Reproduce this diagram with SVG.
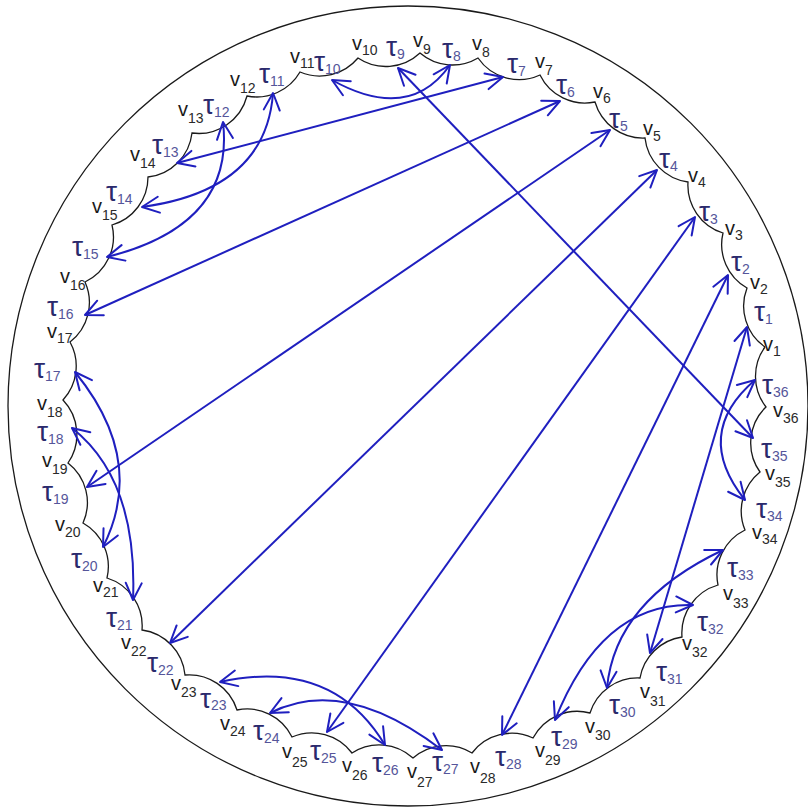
<svg xmlns="http://www.w3.org/2000/svg" width="808" height="807" viewBox="0 0 808 807">
<style>
.bd{fill:none;stroke:#1a1a1a;stroke-width:1.3}
.cn path{fill:none;stroke:#1f1fbf;stroke-width:2;marker-start:url(#ah);marker-end:url(#ah)}
.t{font-family:"Liberation Sans",Arial,sans-serif;font-size:28px;fill:#2a2a6c}
.ts{font-size:14px;fill:#55559a}
.v{font-family:"Liberation Sans",Arial,sans-serif;font-size:20px;fill:#1a1a1a}
.vs{font-size:14px;fill:#2a2a2a}
</style>
<defs>
<marker id="ah" markerUnits="userSpaceOnUse" markerWidth="22" markerHeight="22" viewBox="-20 -11 22 22" refX="0" refY="0" orient="auto-start-reverse" overflow="visible">
<path d="M-17,-8 L0,0 L-17,8" fill="none" stroke="#1f1fbf" stroke-width="2" stroke-linecap="round" stroke-linejoin="round"/>
</marker>
</defs>
<rect width="808" height="807" fill="#ffffff"/>
<circle class="bd" cx="408" cy="406" r="400"/>
<g id="boundary">
<path class="bd" d="M765,347 A50,50 0 0 1 747,288 A50,50 0 0 1 723,233 A50,50 0 0 1 688,182 A50,50 0 0 1 645,138 A50,50 0 0 1 595,102 A50,50 0 0 1 540,75 A50,50 0 0 1 478,58 A50,50 0 0 1 420,53 A50,50 0 0 1 358,58 A50,50 0 0 1 300,72 A50,50 0 0 1 247,96 A50,50 0 0 1 192,133 A50,50 0 0 1 148,177 A50,50 0 0 1 112,225 A50,50 0 0 1 85,282 A50,50 0 0 1 70,342 A50,50 0 0 1 63,400 A50,50 0 0 1 68,463 A50,50 0 0 1 83,523 A50,50 0 0 1 107,578 A50,50 0 0 1 142,630 A50,50 0 0 1 185,675 A50,50 0 0 1 237,710 A50,50 0 0 1 292,737 A50,50 0 0 1 352,753 A50,50 0 0 1 413,758 A50,50 0 0 1 472,753 A50,50 0 0 1 533,738 A50,50 0 0 1 590,713 A50,50 0 0 1 640,678 A50,50 0 0 1 682,637 A50,50 0 0 1 718,585 A50,50 0 0 1 745,530 A50,50 0 0 1 760,472 A50,50 0 0 1 766,407 A50,50 0 0 1 765,347"/>
</g>
<g id="edges">
<text id="tau1" class="t" x="754" y="321">τ<tspan class="ts" dy="3">1</tspan></text>
<text id="tau2" class="t" x="731" y="271">τ<tspan class="ts" dy="3">2</tspan></text>
<text id="tau3" class="t" x="699" y="221">τ<tspan class="ts" dy="3">3</tspan></text>
<text id="tau4" class="t" x="659" y="168">τ<tspan class="ts" dy="3">4</tspan></text>
<text id="tau5" class="t" x="609" y="128">τ<tspan class="ts" dy="3">5</tspan></text>
<text id="tau6" class="t" x="556" y="94">τ<tspan class="ts" dy="3">6</tspan></text>
<text id="tau7" class="t" x="507" y="73">τ<tspan class="ts" dy="3">7</tspan></text>
<text id="tau8" class="t" x="442" y="58">τ<tspan class="ts" dy="3">8</tspan></text>
<text id="tau9" class="t" x="386" y="56">τ<tspan class="ts" dy="3">9</tspan></text>
<text id="tau10" class="t" x="314" y="71">τ<tspan class="ts" dy="3">10</tspan></text>
<text id="tau11" class="t" x="259" y="83">τ<tspan class="ts" dy="3">11</tspan></text>
<text id="tau12" class="t" x="203" y="114">τ<tspan class="ts" dy="3">12</tspan></text>
<text id="tau13" class="t" x="152" y="154">τ<tspan class="ts" dy="3">13</tspan></text>
<text id="tau14" class="t" x="106" y="201">τ<tspan class="ts" dy="3">14</tspan></text>
<text id="tau15" class="t" x="72" y="256">τ<tspan class="ts" dy="3">15</tspan></text>
<text id="tau16" class="t" x="47" y="316">τ<tspan class="ts" dy="3">16</tspan></text>
<text id="tau17" class="t" x="34" y="378">τ<tspan class="ts" dy="3">17</tspan></text>
<text id="tau18" class="t" x="37" y="441">τ<tspan class="ts" dy="3">18</tspan></text>
<text id="tau19" class="t" x="42" y="501">τ<tspan class="ts" dy="3">19</tspan></text>
<text id="tau20" class="t" x="71" y="568">τ<tspan class="ts" dy="3">20</tspan></text>
<text id="tau21" class="t" x="106" y="627">τ<tspan class="ts" dy="3">21</tspan></text>
<text id="tau22" class="t" x="147" y="672">τ<tspan class="ts" dy="3">22</tspan></text>
<text id="tau23" class="t" x="200" y="708">τ<tspan class="ts" dy="2">23</tspan></text>
<text id="tau24" class="t" x="253" y="740">τ<tspan class="ts" dy="3">24</tspan></text>
<text id="tau25" class="t" x="310" y="760">τ<tspan class="ts" dy="3">25</tspan></text>
<text id="tau26" class="t" x="372" y="772">τ<tspan class="ts" dy="3">26</tspan></text>
<text id="tau27" class="t" x="432" y="771">τ<tspan class="ts" dy="3">27</tspan></text>
<text id="tau28" class="t" x="495" y="766">τ<tspan class="ts" dy="3">28</tspan></text>
<text id="tau29" class="t" x="551" y="746">τ<tspan class="ts" dy="3">29</tspan></text>
<text id="tau30" class="t" x="609" y="714">τ<tspan class="ts" dy="3">30</tspan></text>
<text id="tau31" class="t" x="656" y="681">τ<tspan class="ts" dy="3">31</tspan></text>
<text id="tau32" class="t" x="697" y="631">τ<tspan class="ts" dy="3">32</tspan></text>
<text id="tau33" class="t" x="727" y="577">τ<tspan class="ts" dy="3">33</tspan></text>
<text id="tau34" class="t" x="756" y="518">τ<tspan class="ts" dy="3">34</tspan></text>
<text id="tau35" class="t" x="761" y="458">τ<tspan class="ts" dy="3">35</tspan></text>
<text id="tau36" class="t" x="762" y="394">τ<tspan class="ts" dy="3">36</tspan></text>
</g>
<g id="vertices">
<text id="v1" class="v" x="763" y="351">v<tspan class="vs" dy="5">1</tspan></text>
<text id="v2" class="v" x="750" y="289">v<tspan class="vs" dy="5">2</tspan></text>
<text id="v3" class="v" x="725" y="235">v<tspan class="vs" dy="5">3</tspan></text>
<text id="v4" class="v" x="688" y="182">v<tspan class="vs" dy="5">4</tspan></text>
<text id="v5" class="v" x="643" y="135">v<tspan class="vs" dy="6">5</tspan></text>
<text id="v6" class="v" x="593" y="98">v<tspan class="vs" dy="5">6</tspan></text>
<text id="v7" class="v" x="535" y="68">v<tspan class="vs" dy="7">7</tspan></text>
<text id="v8" class="v" x="472" y="50">v<tspan class="vs" dy="7">8</tspan></text>
<text id="v9" class="v" x="413" y="47">v<tspan class="vs" dy="7">9</tspan></text>
<text id="v10" class="v" x="352" y="50">v<tspan class="vs" dy="5">10</tspan></text>
<text id="v11" class="v" x="290" y="63">v<tspan class="vs" dy="5">11</tspan></text>
<text id="v12" class="v" x="230" y="86">v<tspan class="vs" dy="7">12</tspan></text>
<text id="v13" class="v" x="178" y="116">v<tspan class="vs" dy="7">13</tspan></text>
<text id="v14" class="v" x="130" y="161">v<tspan class="vs" dy="7">14</tspan></text>
<text id="v15" class="v" x="92" y="213">v<tspan class="vs" dy="7">15</tspan></text>
<text id="v16" class="v" x="60" y="283">v<tspan class="vs" dy="7">16</tspan></text>
<text id="v17" class="v" x="47" y="338">v<tspan class="vs" dy="5">17</tspan></text>
<text id="v18" class="v" x="37" y="410">v<tspan class="vs" dy="7">18</tspan></text>
<text id="v19" class="v" x="42" y="467">v<tspan class="vs" dy="7">19</tspan></text>
<text id="v20" class="v" x="55" y="531">v<tspan class="vs" dy="6">20</tspan></text>
<text id="v21" class="v" x="93" y="592">v<tspan class="vs" dy="5">21</tspan></text>
<text id="v22" class="v" x="121" y="649">v<tspan class="vs" dy="7">22</tspan></text>
<text id="v23" class="v" x="171" y="690">v<tspan class="vs" dy="7">23</tspan></text>
<text id="v24" class="v" x="220" y="730">v<tspan class="vs" dy="6">24</tspan></text>
<text id="v25" class="v" x="282" y="758">v<tspan class="vs" dy="9">25</tspan></text>
<text id="v26" class="v" x="342" y="772">v<tspan class="vs" dy="8">26</tspan></text>
<text id="v27" class="v" x="407" y="778">v<tspan class="vs" dy="9">27</tspan></text>
<text id="v28" class="v" x="470" y="773">v<tspan class="vs" dy="10">28</tspan></text>
<text id="v29" class="v" x="535" y="757">v<tspan class="vs" dy="8">29</tspan></text>
<text id="v30" class="v" x="585" y="733">v<tspan class="vs" dy="7">30</tspan></text>
<text id="v31" class="v" x="640" y="698">v<tspan class="vs" dy="8">31</tspan></text>
<text id="v32" class="v" x="682" y="650">v<tspan class="vs" dy="7">32</tspan></text>
<text id="v33" class="v" x="723" y="600">v<tspan class="vs" dy="8">33</tspan></text>
<text id="v34" class="v" x="752" y="539">v<tspan class="vs" dy="5">34</tspan></text>
<text id="v35" class="v" x="765" y="480">v<tspan class="vs" dy="7">35</tspan></text>
<text id="v36" class="v" x="773" y="417">v<tspan class="vs" dy="6">36</tspan></text>
</g>
<g id="connectors" class="cn">
<path d="M398,68 L753,438"/>
<path d="M503,77 L177,163"/>
<path d="M560,101 L85,315"/>
<path d="M610,130 L87,487"/>
<path d="M657,170 L170,643"/>
<path d="M695,217 L327,732"/>
<path d="M728,275 L502,735"/>
<path d="M747,327 L650,653"/>
<path d="M332,80 Q409,123 450,65"/>
<path d="M273,93 Q266,190 142,207"/>
<path d="M223,122 Q235,225 107,257"/>
<path d="M75,372 Q147,460 103,547"/>
<path d="M72,428 Q138,480 133,600"/>
<path d="M220,682 Q332,657 385,745"/>
<path d="M270,713 Q344,675 442,750"/>
<path d="M723,550 Q615,601 607,688"/>
<path d="M693,605 Q602,602 555,720"/>
<path d="M755,380 Q692,434 745,500"/>
</g>
</svg>
